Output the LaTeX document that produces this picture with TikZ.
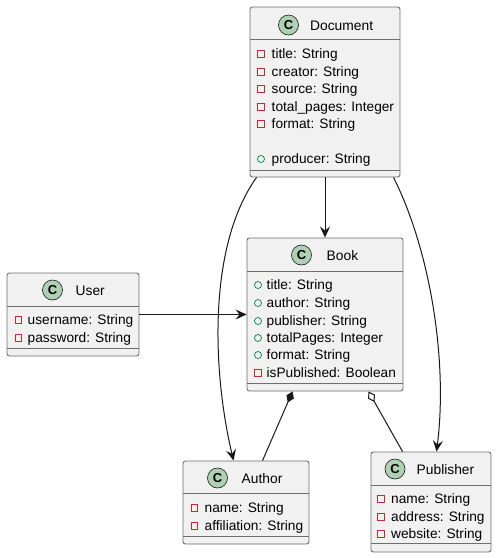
\documentclass[tikz,border=0pt]{standalone}
\usepackage{fontspec}
\setmainfont{Liberation Sans}
\usetikzlibrary{arrows.meta,calc}
\definecolor{boxfill}{HTML}{F1F1F1}
\definecolor{boxline}{HTML}{6E6E6E}
\definecolor{lineclr}{HTML}{181818}
\definecolor{iconfill}{HTML}{ADD1B2}
\definecolor{privred}{HTML}{C82930}
\definecolor{pubgreen}{HTML}{038048}
\begin{document}
\begin{tikzpicture}[x=1pt,y=-1pt,
    classbox/.style={draw=boxline,fill=boxfill,line width=0.9pt,rounded corners=2.5pt,inner sep=0pt},
    sepline/.style={draw=boxline,line width=0.9pt},
    classicon/.style={circle,draw=lineclr,line width=0.6pt,fill=iconfill,minimum size=20pt,inner sep=0pt,
      font=\fontsize{13pt}{13pt}\selectfont\bfseries},
    classname/.style={anchor=base west,inner sep=0pt,font=\fontsize{13.8pt}{16pt}\selectfont},
    field/.style={anchor=base west,inner sep=0pt,font=\fontsize{13.7pt}{16pt}\selectfont},
    priv/.style={draw=privred,line width=0.7pt,minimum size=6.5pt,inner sep=0pt},
    pub/.style={circle,draw=pubgreen,line width=0.7pt,minimum size=7pt,inner sep=0pt},
    assoc/.style={draw=lineclr,line width=1pt,-{Stealth[length=11pt,width=10pt,inset=4pt]}},
    compos/.style={draw=lineclr,line width=1pt,-{Diamond[length=12pt,width=8pt]}},
    aggreg/.style={draw=lineclr,line width=1pt,-{Diamond[length=12pt,width=8pt,fill=white]}}]
  \useasboundingbox (0,0) rectangle (496,558);
  % class boxes
  \node[classbox,minimum width=150pt,minimum height=170pt] (doc) at (325,92) {};
  \node[classbox,minimum width=156pt,minimum height=153pt] (book) at (325,314.5) {};
  \node[classbox,minimum width=132pt,minimum height=83pt] (user) at (73,314.5) {};
  \node[classbox,minimum width=126pt,minimum height=83pt] (author) at (246,502.5) {};
  \node[classbox,minimum width=120pt,minimum height=100pt] (pub) at (431,502) {};
  \draw[sepline] (250,39) -- (400,39) (250,170) -- (400,170);
  \draw[sepline] (247,271) -- (403,271) (247,383) -- (403,383);
  \draw[sepline] (7,306) -- (139,306) (7,348) -- (139,348);
  \draw[sepline] (183,493) -- (309,493) (183,536) -- (309,536);
  \draw[sepline] (371,485) -- (491,485) (371,543) -- (491,543);
  % headers
  \node[classicon] (docc) at (288.5,25) {C};
  \node[classname] (docn) at (310,30) {Document};
  \node[classicon] (bookc) at (301.5,255) {C};
  \node[classname] (bookn) at (326.5,260) {Book};
  \node[classicon] (userc) at (52.5,290) {C};
  \node[classname] (usern) at (75.5,295) {User};
  \node[classicon] (authc) at (217.5,478) {C};
  \node[classname] (authn) at (241.5,483) {Author};
  \node[classicon] (pubc) at (395,469) {C};
  \node[classname] (pubn) at (416.5,474) {Publisher};
  % Document fields
  \node[priv] (doci1) at (261,54) {};
  \node[field] (docf1) at (271.5,58) {title: String};
  \node[priv] (doci2) at (261,72) {};
  \node[field] (docf2) at (271.5,76) {creator: String};
  \node[priv] (doci3) at (261,89) {};
  \node[field] (docf3) at (271.5,93) {source: String};
  \node[priv] (doci4) at (261,107) {};
  \node[field] (docf4) at (271.5,111) {total\_pages: Integer};
  \node[priv] (doci5) at (261,124) {};
  \node[field] (docf5) at (271.5,128) {format: String};
  \node[pub] (doci6) at (261,159) {};
  \node[field] (docf6) at (271.5,163) {producer: String};
  % Book fields
  \node[pub] (booki1) at (258,285) {};
  \node[field] (bookf1) at (266.5,289) {title: String};
  \node[pub] (booki2) at (258,303) {};
  \node[field] (bookf2) at (266.5,307) {author: String};
  \node[pub] (booki3) at (258,321) {};
  \node[field] (bookf3) at (266.5,325) {publisher: String};
  \node[pub] (booki4) at (258,338) {};
  \node[field] (bookf4) at (266.5,342) {totalPages: Integer};
  \node[pub] (booki5) at (258,355) {};
  \node[field] (bookf5) at (266.5,359) {format: String};
  \node[priv] (booki6) at (258,373) {};
  \node[field] (bookf6) at (266.5,377) {isPublished: Boolean};
  % User fields
  \node[priv] (useri1) at (18.5,320) {};
  \node[field] (userf1) at (27.5,324) {username: String};
  \node[priv] (useri2) at (18.5,338) {};
  \node[field] (userf2) at (27.5,342) {password: String};
  % Author fields
  \node[priv] (authi1) at (194.5,508) {};
  \node[field] (authf1) at (204.5,512) {name: String};
  \node[priv] (authi2) at (194.5,526) {};
  \node[field] (authf2) at (204.5,530) {affiliation: String};
  % Publisher fields
  \node[priv] (pubi1) at (381,499) {};
  \node[field] (pubf1) at (391,503) {name: String};
  \node[priv] (pubi2) at (381,517) {};
  \node[field] (pubf2) at (391,521) {address: String};
  \node[priv] (pubi3) at (381,534) {};
  \node[field] (pubf3) at (391,538) {website: String};
  % relations
  \begin{scope}
    \draw[assoc] (doc) to (book);
    \draw[assoc] (user) to (book);
    \draw[assoc] ($(doc.south west)+(7,0)$) .. controls (208,245) and (212,370) .. ($(author.north west)+(51,0)$);
    \draw[assoc] ($(doc.south west)+(144,0)$) .. controls (430,250) and (448,360) .. ($(pub.north west)+(66,0)$);
    \draw[compos] ($(author.north west)+(80,0)$) to ($(book.south west)+(46,0)$);
    \draw[aggreg] ($(pub.north west)+(32,0)$) to ($(book.south west)+(122,0)$);
  \end{scope}
\end{tikzpicture}
\end{document}
